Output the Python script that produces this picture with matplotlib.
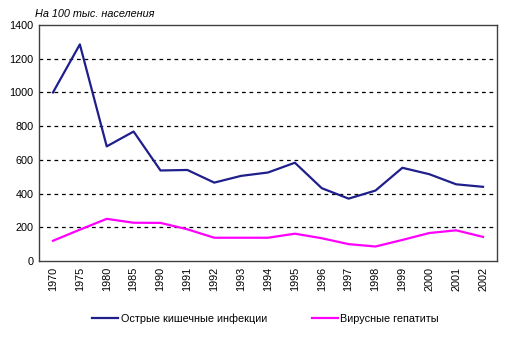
import numpy as np
import matplotlib.pyplot as plt

plt.rcParams['font.family'] = ['Liberation Sans', 'DejaVu Sans']

years = ['1970', '1975', '1980', '1985', '1990', '1991', '1992', '1993', '1994',
         '1995', '1996', '1997', '1998', '1999', '2000', '2001', '2002']
intestinal = [1000, 1285, 680, 768, 537, 540, 465, 505, 525,
              583, 432, 370, 418, 553, 515, 455, 440]
hepatitis = [120, 186, 250, 227, 226, 188, 138, 138, 138,
             162, 135, 100, 86, 125, 166, 182, 143]
yticks = [0, 200, 400, 600, 800, 1000, 1200, 1400]

fig = plt.figure(figsize=(5.11, 3.40), dpi=100)
ax = fig.add_axes([39/511, 1-261/340, (497-39)/511, (261-25)/340])

x = np.arange(len(years))
ax.plot(x, intestinal, color='#1F1F8C', lw=1.6, label='Острые кишечные инфекции')
ax.plot(x, hepatitis, color='#FF00FF', lw=1.6, label='Вирусные гепатиты')

ax.set_xlim(-0.52, len(years) - 0.48)
ax.set_ylim(0, 1400)
ax.set_yticks(yticks)
ax.set_yticklabels([str(v) for v in yticks], fontsize=7.8)
ax.set_xticks(x)
ax.set_xticklabels(years, rotation=90, fontsize=7.8)
ax.tick_params(length=0, pad=4)

# dashed horizontal grid
for v in yticks[1:-1]:
    ax.axhline(v, color='black', lw=0.9, ls=(0, (3, 3)), zorder=0)

for s in ax.spines.values():
    s.set_color('#404040')
    s.set_linewidth(1.0)

fig.text(35/511, 1-14/340, 'На 100 тыс. населения', fontsize=7.8, style='italic',
         va='center', ha='left')

fig.legend(loc='center', bbox_to_anchor=(0.52, 1-319/340), ncol=2, frameon=False,
           fontsize=7.8, handlelength=2.4, handletextpad=0.2, columnspacing=4.2)

fig.savefig('out.png', dpi=100)
